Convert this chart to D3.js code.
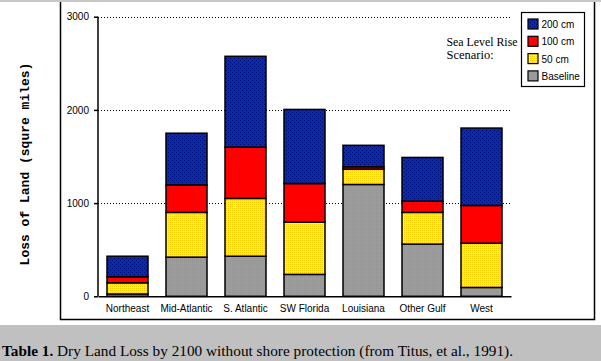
<!DOCTYPE html>
<html><head><meta charset="utf-8">
<script src="https://cdn.jsdelivr.net/npm/d3@7"></script>
<style>body{margin:0;background:#fff}svg{display:block}</style>
</head><body>
<svg id="c" width="601" height="361"></svg>
<script>
const categories = ["Northeast","Mid-Atlantic","S. Atlantic","SW Florida","Louisiana","Other Gulf","West"];
// cumulative land loss (sq. miles) under each scenario
const baseline = [25, 420, 430, 235, 1200, 560, 95];
const cm50     = [145, 900, 1050, 795, 1365, 900, 570];
const cm100    = [210, 1195, 1600, 1210, 1390, 1020, 975];
const cm200    = [430, 1750, 2575, 2005, 1620, 1490, 1805];
const yTicks = [0, 1000, 2000, 3000];
const seriesNames = ["Baseline","50 cm","100 cm","200 cm"];
const legendOrder = ["200 cm","100 cm","50 cm","Baseline"];

const SANS = "'Liberation Sans',Arial,sans-serif";
const SERIF = "'Liberation Serif','Times New Roman',serif";

const svg = d3.select("#c");
const defs = svg.append("defs");
// dotted textures
const pb = defs.append("pattern").attr("id","pBlue").attr("width",4).attr("height",4).attr("patternUnits","userSpaceOnUse");
pb.append("rect").attr("width",4).attr("height",4).attr("fill","#003399");
pb.append("rect").attr("x",0).attr("y",0).attr("width",1).attr("height",1).attr("fill","#000080");
pb.append("rect").attr("x",2).attr("y",2).attr("width",1).attr("height",1).attr("fill","#000080");
const py = defs.append("pattern").attr("id","pYel").attr("width",2).attr("height",2).attr("patternUnits","userSpaceOnUse");
py.append("rect").attr("width",2).attr("height",2).attr("fill","#ffff00");
py.append("rect").attr("x",0).attr("y",0).attr("width",1).attr("height",1).attr("fill","#ffcc00");
const pg = defs.append("pattern").attr("id","pGray").attr("width",2).attr("height",2).attr("patternUnits","userSpaceOnUse");
pg.append("rect").attr("width",2).attr("height",2).attr("fill","#9c9c9c");
pg.append("rect").attr("x",0).attr("y",0).attr("width",1).attr("height",1).attr("fill","#959595");

const fills = {"Baseline":"url(#pGray)","50 cm":"url(#pYel)","100 cm":"#ff0000","200 cm":"url(#pBlue)"};
const seriesVals = [baseline, cm50, cm100, cm200];

// page chrome
svg.append("rect").attr("x",0).attr("y",0).attr("width",601).attr("height",2).attr("fill","#c8c8c8");
svg.append("rect").attr("x",0).attr("y",325).attr("width",601).attr("height",36).attr("fill","#c0c0c0");
svg.append("path").attr("d","M60.5,2V319.5H594.5V2").attr("fill","none").attr("stroke","#000").attr("stroke-width",1.5);

const x = d3.scaleBand().domain(categories).range([98,511]).paddingInner(18/59).paddingOuter(9/59);
const y = d3.scaleLinear().domain([0,3000]).range([296.3,16.7]);

// gridlines
svg.append("g").selectAll("line").data(yTicks.filter(d=>d>0)).join("line")
  .attr("x1",98).attr("x2",511).attr("y1",d=>Math.round(y(d))+0.5).attr("y2",d=>Math.round(y(d))+0.5)
  .attr("stroke","#000").attr("stroke-width",1).attr("stroke-dasharray","1,2");

// bars
const g = svg.append("g");
categories.forEach((c,i)=>{
  seriesNames.forEach((s,j)=>{
    const lo = j===0?0:seriesVals[j-1][i];
    const hi = seriesVals[j][i];
    g.append("rect").attr("x",x(c)).attr("width",x.bandwidth())
      .attr("y",y(hi)).attr("height",y(lo)-y(hi))
      .attr("fill",fills[s]).attr("stroke","#000").attr("stroke-width",1.5);
  });
});

// y axis
const ya = svg.append("g").attr("transform","translate(98,0)")
  .call(d3.axisLeft(y).tickValues(yTicks).tickSize(4).tickPadding(5).tickFormat(d3.format("d")));
ya.select(".domain").attr("stroke-width",1.5).attr("d","M0,"+y(3000)+"V"+y(0));
ya.selectAll("text").attr("font-family",SANS).attr("font-size",10).attr("fill","#000");
ya.selectAll("line").attr("stroke-width",1.5);

// x axis
const xa = svg.append("g").attr("transform","translate(0,"+y(0)+")")
  .call(d3.axisBottom(x).tickSize(0).tickPadding(9));
xa.select(".domain").attr("stroke-width",1.5);
xa.selectAll("text").attr("font-family",SANS).attr("font-size",10).attr("fill","#000");

// y title
svg.append("text").attr("transform","translate(29,164) rotate(-90)").attr("text-anchor","middle")
  .attr("font-family","'Liberation Mono','Courier New',monospace").attr("font-weight","bold").attr("font-size",13)
  .text("Loss of Land (squre miles)");

// legend
const lg = svg.append("g");
lg.append("rect").attr("x",521.5).attr("y",12.5).attr("width",63).attr("height",74).attr("fill","#fff").attr("stroke","#000").attr("stroke-width",1.2);
legendOrder.forEach((s,i)=>{
  const yy = 19 + i*17.3;
  lg.append("rect").attr("x",528).attr("y",yy).attr("width",10).attr("height",10)
    .attr("fill",fills[s]).attr("stroke","#000").attr("stroke-width",1.2);
  lg.append("text").attr("x",541.5).attr("y",yy+9).attr("font-family",SANS)
    .attr("font-size",10).text(s);
});

svg.append("text").attr("x",446.5).attr("y",45.5).attr("font-family",SERIF).attr("font-size",12.5)
  .attr("textLength",71).attr("lengthAdjust","spacingAndGlyphs").text("Sea Level Rise");
svg.append("text").attr("x",446.5).attr("y",59).attr("font-family",SERIF).attr("font-size",12.5).text("Scenario:");

// caption
const cap = svg.append("text").attr("x",2).attr("y",355.5).attr("font-family",SERIF).attr("font-size",15.2)
  .attr("textLength",511).attr("lengthAdjust","spacingAndGlyphs");
cap.append("tspan").attr("font-weight","bold").text("Table 1.");
cap.append("tspan").text(" Dry Land Loss by 2100 without shore protection (from Titus, et al., 1991).");
</script>
</body></html>
